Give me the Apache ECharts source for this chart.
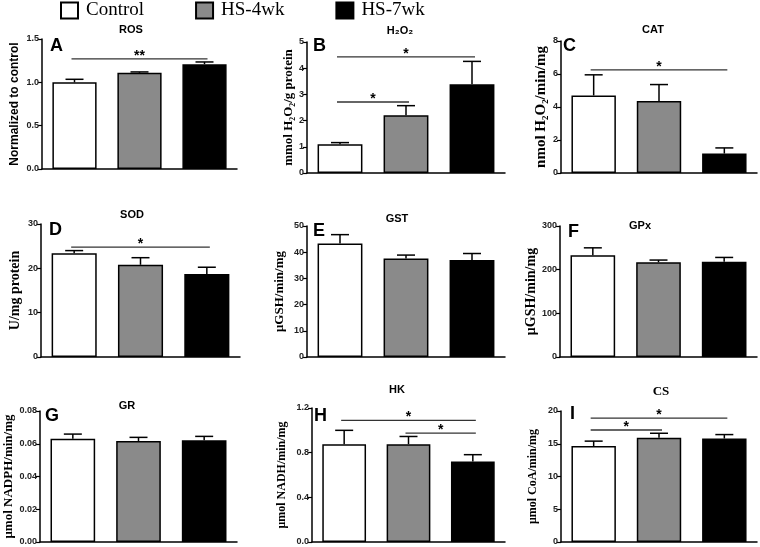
<!DOCTYPE html>
<html><head><meta charset="utf-8">
<script src="https://cdn.jsdelivr.net/npm/echarts@6/dist/echarts.min.js"></script>
<style>html,body{margin:0;padding:0;background:#fff}#c{width:760px;height:547px}</style>
</head><body><div id="c"></div>
<script>
// ---------- DATA ----------
const groups = ['Control', 'HS-4wk', 'HS-7wk'];

const panelLetters = ['A','B','C','D','E','F','G','H','I'];
const panelTitles = ['ROS','H\u2082O\u2082','CAT','SOD','GST','GPx','GR','HK','CS'];
const yNames = ['Normalized to control','mmol H\u2082O\u2082/g protein','nmol H\u2082O\u2082/min/mg','U/mg protein',
  '\u03bcGSH/min/mg','\u03bcGSH/min/mg','\u03bcmol NADPH/min/mg','\u03bcmol NADH/min/mg','\u03bcmol CoA/min/mg'];

const rosMean = [1.00, 1.11, 1.21];   const rosSem = [0.035, 0.01, 0.025];
const h2o2Mean = [1.10, 2.20, 3.39];  const h2o2Sem = [0.06, 0.37, 0.87];
const catMean = [4.70, 4.36, 1.18];   const catSem = [1.25, 1.0, 0.34];
const sodMean = [23.4, 20.8, 18.75];  const sodSem = [0.6, 1.6, 1.5];
const gstMean = [43.3, 37.6, 37.0];   const gstSem = [3.4, 1.3, 2.5];
const gpxMean = [233, 217, 218];      const gpxSem = [17, 5, 10];
const grMean = [0.0631, 0.0617, 0.0621]; const grSem = [0.0028, 0.0022, 0.0024];
const hkMean = [0.876, 0.876, 0.72];  const hkSem = [0.124, 0.069, 0.062];
const csMean = [14.65, 15.9, 15.8];   const csSem = [0.75, 0.7, 0.6];

// y-axis ticks: [max, interval, decimals]
const rosTicks = [1.5, 0.5, 1];
const h2o2Ticks = [5, 1, 0];
const catTicks = [8, 2, 0];
const sodTicks = [30, 10, 0];
const gstTicks = [50, 10, 0];
const gpxTicks = [300, 100, 0];
const grTicks = [0.08, 0.02, 2];
const hkTicks = [1.2, 0.4, 1];
const csTicks = [20, 5, 0];

// significance: [fromGroup, toGroup, level, mark]
const rosSig = [[0, 2, 1.27, '**']];
const h2o2Sig = [[0, 2, 4.43, '*'], [0, 1, 2.71, '*']];
const catSig = [[0, 2, 6.25, '*']];
const sodSig = [[0, 2, 24.8, '*']];
const gstSig = [];
const gpxSig = [];
const grSig = [];
const hkSig = [[0, 2, 1.09, '*'], [1, 2, 0.975, '*']];
const csSig = [[0, 2, 18.9, '*'], [0, 1, 17.1, '*']];

const means = [rosMean, h2o2Mean, catMean, sodMean, gstMean, gpxMean, grMean, hkMean, csMean];
const sems = [rosSem, h2o2Sem, catSem, sodSem, gstSem, gpxSem, grSem, hkSem, csSem];
const ticks = [rosTicks, h2o2Ticks, catTicks, sodTicks, gstTicks, gpxTicks, grTicks, hkTicks, csTicks];
const sigs = [rosSig, h2o2Sig, catSig, sodSig, gstSig, gpxSig, grSig, hkSig, csSig];

// ---------- LAYOUT / STYLE ----------
const SANS = '"Liberation Sans", Arial, sans-serif';
const SERIF = '"Liberation Serif", "Times New Roman", serif';
const grids = [
  {left: 42, top: 39, width: 195, height: 130},
  {left: 307, top: 42, width: 198, height: 131},
  {left: 561, top: 41, width: 196, height: 132},
  {left: 41, top: 224, width: 199, height: 133},
  {left: 307, top: 226, width: 198, height: 131},
  {left: 560, top: 226, width: 197, height: 131},
  {left: 40, top: 411, width: 197, height: 131},
  {left: 312, top: 408, width: 193, height: 134},
  {left: 561, top: 411, width: 196, height: 131}
];
const yNameStyle = [
  {f: SANS, s: 12, g: 21},
  {f: SERIF, s: 13, g: 9},
  {f: SERIF, s: 15, g: 11},
  {f: SERIF, s: 14, g: 19},
  {f: SERIF, s: 13, g: 21},
  {f: SERIF, s: 14, g: 21},
  {f: SERIF, s: 13, g: 25},
  {f: SERIF, s: 12, g: 24},
  {f: SERIF, s: 12, g: 22}
];
const titlePos = [[131,30],[400,31],[653,30],[132,215],[397,219],[640,226],[127,405.5],[397,389.5],[661,392]];
const letterPos = [[50,46.5],[313,46.5],[563,46],[49,230.5],[313,231],[568,232],[45,416.5],[314,416],[570,414.5]];
const fills = ['#ffffff', '#8a8a8a', '#000000'];

const option = {
  animation: false,
  backgroundColor: '#fff',
  legend: {
    data: groups,
    left: 60, top: 1, padding: 0,
    icon: 'rect', itemWidth: 17, itemHeight: 16, itemGap: 51,
    selectedMode: false,
    textStyle: {fontFamily: SERIF, fontSize: 19, color: '#000', padding: [0, 0, 0, 3]}
  },
  grid: [], xAxis: [], yAxis: [], series: [], graphic: []
};

for (let p = 0; p < 9; p++) {
  option.grid.push(Object.assign({containLabel: false}, grids[p]));
  option.xAxis.push({
    type: 'category', gridIndex: p, data: groups, boundaryGap: true,
    axisLine: {lineStyle: {color: '#000', width: 1.5}},
    axisTick: {alignWithLabel: true, length: 5, lineStyle: {color: '#000', width: 1.2}},
    axisLabel: {show: false}, splitLine: {show: false}
  });
  const t = ticks[p];
  const ns = yNameStyle[p];
  option.yAxis.push({
    type: 'value', gridIndex: p, min: 0, max: t[0], interval: t[1],
    name: yNames[p], nameLocation: 'middle', nameRotate: 90, nameGap: ns.g,
    nameTextStyle: {fontFamily: ns.f, fontSize: ns.s, fontWeight: 'bold', color: '#000'},
    axisLine: {show: true, lineStyle: {color: '#000', width: 1.5}},
    axisTick: {show: true, length: 4, lineStyle: {color: '#000', width: 1.2}},
    splitLine: {show: false},
    axisLabel: {fontFamily: SANS, fontSize: 9, fontWeight: 'bold', color: '#222', margin: 3,
      formatter: (v) => v.toFixed(t[2])}
  });
  // bars: one stacked series per group so that each occupies its own category
  groups.forEach((g, gi) => {
    option.series.push({
      type: 'bar', name: g, xAxisIndex: p, yAxisIndex: p, stack: 'p' + p,
      barCategoryGap: '32%',
      data: means[p].map((v, i) => (i === gi ? v : '-')),
      itemStyle: {color: fills[gi], borderColor: '#000', borderWidth: 1.5},
      emphasis: {disabled: true}
    });
  });
  // error bars (upper SEM)
  option.series.push({
    type: 'custom', xAxisIndex: p, yAxisIndex: p, silent: true, z: 5,
    encode: {x: 0, y: [1, 2]},
    data: means[p].map((m, i) => [i, m, m + sems[p][i]]),
    renderItem: function (params, api) {
      const x = api.value(0);
      const a = api.coord([x, api.value(1)]);
      const b = api.coord([x, api.value(2)]);
      const hw = 9;
      return {type: 'group', children: [
        {type: 'line', shape: {x1: a[0], y1: a[1], x2: b[0], y2: b[1]}, style: {stroke: '#000', lineWidth: 1.5}},
        {type: 'line', shape: {x1: b[0] - hw, y1: b[1], x2: b[0] + hw, y2: b[1]}, style: {stroke: '#000', lineWidth: 1.5}}
      ]};
    }
  });
  // significance lines
  const sg = sigs[p];
  if (sg.length) {
    option.series.push({
      type: 'custom', xAxisIndex: p, yAxisIndex: p, silent: true, z: 6,
      encode: {x: [0, 1], y: 2},
      data: sg.map(s => [s[0], s[1], s[2]]),
      renderItem: function (params, api) {
        const a = api.coord([api.value(0), api.value(2)]);
        const b = api.coord([api.value(1), api.value(2)]);
        const x1 = a[0] - 3, x2 = b[0] + 3;
        return {type: 'group', children: [
          {type: 'line', shape: {x1: x1, y1: a[1], x2: x2, y2: a[1]}, style: {stroke: '#333', lineWidth: 1.3}},
          {type: 'text', x: (x1 + x2) / 2, y: a[1] - 3,
            style: {text: sg[params.dataIndex][3], fontFamily: SANS, fontSize: 14, fontWeight: 'bold',
              fill: '#000', align: 'center', verticalAlign: 'middle'}}
        ]};
      }
    });
  }
  option.graphic.push({
    type: 'text', x: titlePos[p][0], y: titlePos[p][1], silent: true,
    style: {text: panelTitles[p], fontFamily: p === 8 ? SERIF : SANS, fontSize: p === 8 ? 13 : 11,
      fontWeight: 'bold', fill: '#000', align: 'center', verticalAlign: 'middle'}
  });
  option.graphic.push({
    type: 'text', x: letterPos[p][0], y: letterPos[p][1], silent: true,
    style: {text: panelLetters[p], fontFamily: SANS, fontSize: 18, fontWeight: 'bold',
      fill: '#000', align: 'left', verticalAlign: 'middle'}
  });
}

const chart = echarts.init(document.getElementById('c'), null, {renderer: 'canvas'});
chart.setOption(option);
</script>
</body></html>
